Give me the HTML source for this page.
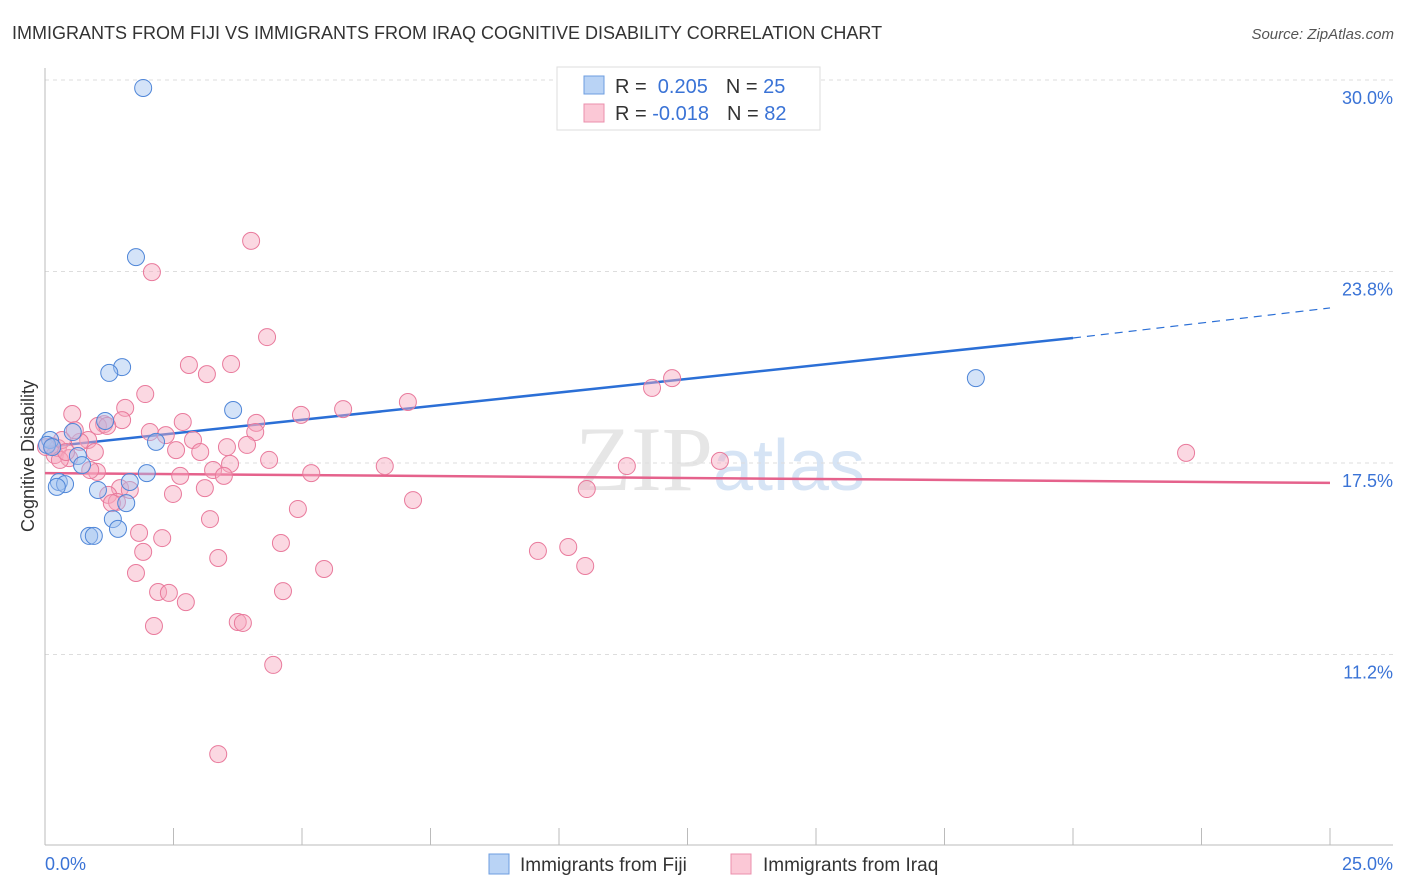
<!DOCTYPE html>
<html><head><meta charset="utf-8"><style>
body{margin:0;background:#fff;font-family:"Liberation Sans",sans-serif;}
svg{display:block}
</style></head><body>
<svg id="chart" width="1406" height="892" xmlns="http://www.w3.org/2000/svg">
<text x="12" y="39" font-size="18" fill="#333">IMMIGRANTS FROM FIJI VS IMMIGRANTS FROM IRAQ COGNITIVE DISABILITY CORRELATION CHART</text>
<text x="1394" y="39" font-size="15" fill="#555" font-style="italic" text-anchor="end">Source: ZipAtlas.com</text>
<text x="720" y="490" font-size="92" fill="#e6e6e6" text-anchor="middle" font-family="Liberation Serif,serif">ZIP<tspan fill="#d6e4f5" font-family="Liberation Sans,sans-serif" font-size="72">atlas</tspan></text>
<g id="grid"></g>
<g id="axes"></g>
<g id="trend"></g>
<g id="points"></g>
<text transform="translate(34,456) rotate(-90)" font-size="18" fill="#333" text-anchor="middle">Cognitive Disability</text>
<g>
<rect x="557" y="67" width="263" height="63" fill="#fff" stroke="#ddd"/>
<rect x="584" y="76" width="20" height="18" fill="#b9d3f5" stroke="#6d9ee0"/>
<rect x="584" y="104" width="20" height="18" fill="#fbc8d6" stroke="#eb8fac"/>
<text x="615" y="93" font-size="20" fill="#333">R = <tspan fill="#3a73d6">&#160;0.205</tspan><tspan dx="18">N = </tspan><tspan fill="#3a73d6">25</tspan></text>
<text x="615" y="120" font-size="20" fill="#333">R = <tspan fill="#3a73d6">-0.018</tspan><tspan dx="18">N = </tspan><tspan fill="#3a73d6">82</tspan></text>
</g>
<g>
<rect x="489" y="854" width="20" height="20" fill="#b9d3f5" stroke="#6d9ee0"/>
<text x="520" y="871" font-size="19" fill="#333">Immigrants from Fiji</text>
<rect x="731" y="854" width="20" height="20" fill="#fbc8d6" stroke="#eb8fac"/>
<text x="763" y="871" font-size="19" fill="#333">Immigrants from Iraq</text>
</g>
</svg>
<script>
const yTicks=[30,23.75,17.5,11.25];
const yTickLabels=["30.0%","23.8%","17.5%","11.2%"];
const xTickLabels=["0.0%","25.0%"];
const fijiX=[1.91,1.77,1.50,1.25,18.11,3.66,1.17,0.54,2.16,0.10,0.64,0.72,1.98,0.27,0.39,0.23,1.03,1.65,1.32,1.58,1.42,0.86,0.95,0.04,0.14];
const fijiY=[29.74,24.22,20.63,20.44,20.27,19.23,18.87,18.51,18.19,18.25,17.73,17.43,17.17,16.88,16.81,16.72,16.62,16.88,15.67,16.19,15.35,15.12,15.12,18.09,18.02];
const iraqX=[4.01,2.08,4.32,2.80,3.62,3.15,1.95,12.20,11.81,7.06,5.80,1.56,0.53,4.98,2.68,4.11,1.50,1.15,1.03,2.04,2.35,2.88,4.09,1.21,3.93,3.54,2.55,3.02,0.14,0.25,0.02,0.33,0.84,0.19,0.47,0.97,4.36,3.60,3.27,2.63,5.18,3.48,6.61,11.32,13.13,22.20,1.01,1.46,1.23,3.11,2.49,1.40,1.30,10.54,7.16,4.92,3.21,1.83,2.28,4.59,1.91,9.59,10.18,3.37,10.51,5.43,1.77,4.63,2.20,2.41,2.74,2.12,3.75,3.85,4.44,3.37,0.68,0.29,0.88,1.65,0.41,0.58];
const iraqY=[24.75,23.73,21.61,20.70,20.73,20.40,19.75,20.27,19.95,19.49,19.26,19.30,19.10,19.07,18.84,18.81,18.90,18.77,18.71,18.51,18.41,18.25,18.51,18.71,18.09,18.02,17.92,17.86,18.05,17.99,18.02,18.25,18.25,17.76,17.66,17.86,17.60,17.47,17.27,17.08,17.17,17.08,17.40,17.40,17.57,17.83,17.21,16.68,16.46,16.68,16.49,16.23,16.19,16.65,16.29,16.00,15.67,15.22,15.05,14.89,14.60,14.63,14.76,14.40,14.14,14.04,13.91,13.32,13.29,13.26,12.96,12.18,12.31,12.28,10.91,8.00,18.19,17.60,17.27,16.62,17.86,18.57];
const fijiTrend=[18.02,21.58,22.56];
const fijiTrendX=[0,20,25];
const iraqTrend=[17.17,16.85];
const iraqTrendX=[0,25];
const NS="http://www.w3.org/2000/svg";
const X=v=>45+v*51.4, Y=v=>80+(30-v)*30.64;
function mk(tag,attrs,parent){const e=document.createElementNS(NS,tag);for(const k in attrs)e.setAttribute(k,attrs[k]);parent.appendChild(e);return e;}
const grid=document.getElementById('grid'),axes=document.getElementById('axes'),trend=document.getElementById('trend'),pts=document.getElementById('points');
yTicks.forEach((t,i)=>{
 const l=mk('line',{x1:45,x2:1393,y1:Y(t),y2:Y(t),stroke:'#ddd','stroke-dasharray':'4,4'},grid);
 
 
 const tx=mk('text',{x:1393,y:Y(t)+24,'font-size':18,fill:'#3a73d6','text-anchor':'end'},grid);
 tx.textContent=yTickLabels[i];
 
 
});
const ya=mk('line',{x1:45,x2:45,y1:68,y2:845,stroke:'#bbb'},axes);


const xa=mk('line',{x1:45,x2:1393,y1:845,y2:845,stroke:'#bbb'},axes);


for(let i=0;i<=10;i++){
 const t=mk('line',{x1:X(i*2.5),x2:X(i*2.5),y1:828,y2:845,stroke:'#bbb'},axes);
 
 
}
[[0,'start',45],[25,'end',1393]].forEach((a,i)=>{
 const tx=mk('text',{x:a[2],y:870,'font-size':18,fill:'#3a73d6','text-anchor':a[1]},axes);
 tx.textContent=xTickLabels[i];
 
 
});
function drawPts(xs,ys,fill,stroke,name){xs.forEach((x,i)=>{
 const c=mk('circle',{cx:X(x),cy:Y(ys[i]),r:8.5,fill:fill,stroke:stroke,'stroke-width':1,'fill-opacity':0.45},pts);
 
 
});}
drawPts(iraqX,iraqY,'#f7a8bf','#e97a9c','iraq-point');
drawPts(fijiX,fijiY,'#9fc2f0','#4f86d8','fiji-point');
const t1=mk('line',{x1:X(fijiTrendX[0]),y1:Y(fijiTrend[0]),x2:X(fijiTrendX[1]),y2:Y(fijiTrend[1]),stroke:'#2b6fd6','stroke-width':2.5},trend);


const t2=mk('line',{x1:X(fijiTrendX[1]),y1:Y(fijiTrend[1]),x2:X(fijiTrendX[2]),y2:Y(fijiTrend[2]),stroke:'#2b6fd6','stroke-width':1.2,'stroke-dasharray':'8,6'},trend);


const t3=mk('line',{x1:X(iraqTrendX[0]),y1:Y(iraqTrend[0]),x2:X(iraqTrendX[1]),y2:Y(iraqTrend[1]),stroke:'#e5628c','stroke-width':2.5},trend);


</script>
</body></html>
